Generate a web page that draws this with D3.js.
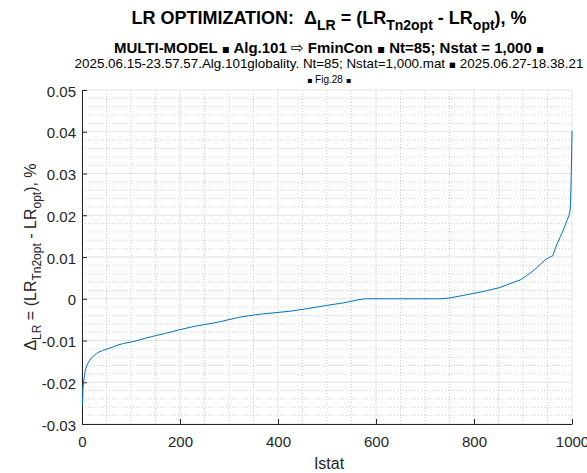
<!DOCTYPE html>
<html>
<head>
<meta charset="utf-8">
<script src="https://cdn.jsdelivr.net/npm/d3@7"></script>
<style>
  body { margin: 0; background: #fff; }
  svg { display: block; font-family: "Liberation Sans", Arial, sans-serif; }
  text { white-space: pre; }
</style>
</head>
<body>
<svg id="chart" width="587" height="473"></svg>
<script>
// sorted deltas (Istat -> delta LR, %)
const istat = [1, 2, 3, 5, 7, 10, 14, 19, 25, 32, 42, 52, 62, 73, 85, 94, 110, 128, 148, 170,
  196, 230, 278, 322, 363, 424, 458, 499, 533, 550, 561, 578, 650, 731, 751, 778, 800, 825,
  853, 873, 894, 907, 924, 935, 945, 955, 961, 965, 970, 975, 980, 985, 990, 994, 996, 997,
  998, 999, 1000];
const deltaLR = [-0.0256, -0.0215, -0.0200, -0.0184, -0.0170, -0.0160, -0.0150, -0.0142,
  -0.0136, -0.0129, -0.0124, -0.0120, -0.0116, -0.0111, -0.0107, -0.0105, -0.0101, -0.0095,
  -0.0089, -0.0083, -0.0075, -0.0066, -0.0056, -0.0044, -0.0037, -0.0030, -0.0024, -0.0016,
  -0.0010, -0.0006, -0.0003, 0, 0, 0, 0.0002, 0.0008, 0.0013, 0.0019, 0.0027, 0.0036, 0.0045,
  0.0055, 0.0070, 0.0082, 0.0093, 0.0100, 0.0103, 0.0118, 0.0132, 0.0146, 0.0158, 0.0172,
  0.0188, 0.0200, 0.0210, 0.0230, 0.0270, 0.0330, 0.0402];

const xTicks = [0, 200, 400, 600, 800, 1000];
const yTicks = [-0.03, -0.02, -0.01, 0, 0.01, 0.02, 0.03, 0.04, 0.05];

const svg = d3.select("#chart");
const pLeft = 82, pRight = 572, pTop = 90, pBottom = 424;

const x = d3.scaleLinear().domain([0, 1000]).range([pLeft, pRight]);
const y = d3.scaleLinear().domain([-0.03, 0.05]).range([pBottom, pTop]);

svg.append("rect").attr("width", 587).attr("height", 473).attr("fill", "#fff");

// minor grid (dotted)
const grid = svg.append("g");
grid.selectAll(".mx").data(d3.range(0, 1001, 50).filter(v => v % 200 !== 0))
  .enter().append("line")
  .attr("x1", d => x(d)).attr("x2", d => x(d)).attr("y1", pTop).attr("y2", pBottom)
  .attr("stroke", "#d0d0d0").attr("stroke-width", 1).attr("stroke-dasharray", "1,2");
grid.selectAll(".my").data(d3.range(-30, 51, 2).filter(v => v % 10 !== 0).map(v => v / 1000))
  .enter().append("line")
  .attr("x1", pLeft).attr("x2", pRight).attr("y1", d => y(d)).attr("y2", d => y(d))
  .attr("stroke", "#d0d0d0").attr("stroke-width", 1).attr("stroke-dasharray", "1,2");

// major grid
grid.selectAll(".gx").data(xTicks).enter().append("line")
  .attr("x1", d => x(d)).attr("x2", d => x(d)).attr("y1", pTop).attr("y2", pBottom)
  .attr("stroke", "#e3e3e3").attr("stroke-width", 1);
grid.selectAll(".gy").data(yTicks).enter().append("line")
  .attr("x1", pLeft).attr("x2", pRight).attr("y1", d => y(d)).attr("y2", d => y(d))
  .attr("stroke", "#e3e3e3").attr("stroke-width", 1);

// axes
const fmt = d => d === 0 ? "0" : d.toFixed(2);
const xAxis = svg.append("g").attr("transform", `translate(0,${pBottom})`)
  .call(d3.axisBottom(x).tickValues(xTicks).tickFormat(d3.format("d"))
    .tickSizeInner(-5).tickSizeOuter(0).tickPadding(12));
const yAxis = svg.append("g").attr("transform", `translate(${pLeft},0)`)
  .call(d3.axisLeft(y).tickValues(yTicks).tickFormat(fmt)
    .tickSizeInner(-5).tickSizeOuter(0).tickPadding(6));

[xAxis, yAxis].forEach(a => {
  a.select(".domain").attr("stroke", "#262626");
  a.selectAll(".tick line").attr("stroke", "#262626");
  a.selectAll(".tick text").attr("fill", "#262626")
    .style("font-size", "15px").style("font-family", "Liberation Sans, Arial, sans-serif");
});
yAxis.selectAll(".tick text").attr("dy", "0.4em");

// curve
const line = d3.line().x(d => x(d[0])).y(d => y(d[1]));
svg.append("path")
  .datum(istat.map((v, i) => [v, deltaLR[i]]))
  .attr("d", line)
  .attr("fill", "none")
  .attr("stroke", "#0072BD")
  .attr("stroke-width", 1);

// titles
const cx = 329;
const t1 = svg.append("text").attr("x", cx).attr("y", 24).attr("text-anchor", "middle")
  .attr("font-size", 18).attr("font-weight", "bold").attr("fill", "#000");
t1.append("tspan").text("LR OPTIMIZATION:  Δ");
t1.append("tspan").attr("dy", 6).attr("font-size", 14).text("LR");
t1.append("tspan").attr("dy", -6).text(" = (LR");
t1.append("tspan").attr("dy", 6).attr("font-size", 14).text("Tn2opt");
t1.append("tspan").attr("dy", -6).text(" - LR");
t1.append("tspan").attr("dy", 6).attr("font-size", 14).text("opt");
t1.append("tspan").attr("dy", -6).text("), %");

// text line where the small squares come from DejaVu (larger glyph, as in the figure)
function bulletLine(yPos, size, bold, str) {
  const t = svg.append("text").attr("x", cx).attr("y", yPos).attr("text-anchor", "middle")
    .attr("font-size", size).attr("font-weight", bold ? "bold" : "normal").attr("fill", "#000");
  str.split(/(▪|⇨)/).forEach(part => {
    if (part === "") return;
    const sp = t.append("tspan").text(part);
    if (part === "▪") sp.attr("font-family", "DejaVu Sans").attr("font-size", size * 0.8);
    if (part === "⇨") sp.attr("font-family", "DejaVu Sans").attr("font-weight", "normal");
  });
  return t;
}

bulletLine(53, 15, true, "MULTI-MODEL ▪ Alg.101 ⇨ FminCon ▪ Nt=85; Nstat = 1,000 ▪");
bulletLine(68, 13.4, false, "2025.06.15-23.57.57.Alg.101globality. Nt=85; Nstat=1,000.mat ▪ 2025.06.27-18.38.21");
bulletLine(83, 10, false, "▪ Fig.28 ▪");

// axis labels
svg.append("text").attr("x", cx).attr("y", 469).attr("text-anchor", "middle")
  .attr("font-size", 16).attr("fill", "#262626").text("Istat");

const yl = svg.append("text").attr("transform", `translate(36,${(pTop + pBottom) / 2}) rotate(-90)`)
  .attr("text-anchor", "middle").attr("font-size", 16).attr("fill", "#262626");
yl.append("tspan").text("Δ");
yl.append("tspan").attr("dy", 5).attr("font-size", 12).text("LR");
yl.append("tspan").attr("dy", -5).text(" = (LR");
yl.append("tspan").attr("dy", 5).attr("font-size", 12).text("Tn2opt");
yl.append("tspan").attr("dy", -5).text(" - LR");
yl.append("tspan").attr("dy", 5).attr("font-size", 12).text("opt");
yl.append("tspan").attr("dy", -5).text("), %");
</script>
</body>
</html>
